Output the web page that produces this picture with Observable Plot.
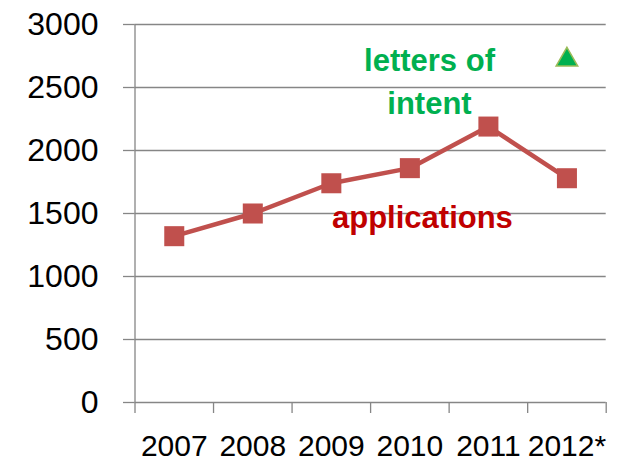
<!DOCTYPE html>
<html>
<head>
<meta charset="utf-8">
<script src="https://cdn.jsdelivr.net/npm/d3@7"></script>
<script src="https://cdn.jsdelivr.net/npm/@observablehq/plot@0.6"></script>
<style>
  html, body { margin: 0; padding: 0; background: white; }
</style>
</head>
<body>
<div id="chart"></div>
<script>
const years = ["2007", "2008", "2009", "2010", "2011", "2012*"];
const applications = [1320, 1500, 1740, 1860, 2190, 1780];
const lettersOfIntent = [null, null, null, null, null, 2720];
const yTicks = [0, 500, 1000, 1500, 2000, 2500, 3000];
const seriesLabels = ["applications", "letters of\nintent"];

const grey = "#868686";
const font = "'Liberation Sans', Arial, sans-serif";

const chart = Plot.plot({
  width: 628,
  height: 465,
  marginLeft: 134.5,
  marginRight: 22.3,
  marginTop: 24,
  marginBottom: 63,
  style: { fontFamily: font, background: "white", color: "black" },
  x: { type: "linear", domain: [0, years.length], axis: null },
  y: { domain: [0, 3000], axis: null },
  marks: [
    Plot.ruleY(yTicks, { stroke: grey, strokeWidth: 1.3 }),
    Plot.axisY({ ticks: yTicks, tickSize: 11.5, tickPadding: 25, fontSize: 32, stroke: grey, strokeWidth: 1.3, fill: "black", label: null, tickFormat: d => String(d) }),
    Plot.ruleX([0], { y1: 0, y2: 3000, stroke: grey, strokeWidth: 1.3 }),
    Plot.axisX({ ticks: d3.range(0, years.length + 1), tickSize: 11, tickFormat: () => "", stroke: grey, strokeWidth: 1.3, label: null }),
    Plot.axisX({ ticks: years.map((d, i) => i + 0.5), tickSize: 0, tickPadding: 32, fontSize: 30, fill: "black", label: null, tickFormat: d => years[Math.floor(d)] }),
    Plot.line(applications, { x: (d, i) => i + 0.5, y: d => d, stroke: "#c0504d", strokeWidth: 4.5 }),
    Plot.dot(applications, { x: (d, i) => i + 0.5, y: d => d, symbol: "square", r: 11.3, fill: "#c0504d", stroke: "none" }),
    Plot.dot(lettersOfIntent, { x: (d, i) => i + 0.5, y: d => d, filter: d => d != null, symbol: "triangle", r: 8, fill: "#00b050", stroke: "#9bbb59", strokeWidth: 1.5 }),
    Plot.text([seriesLabels[1]], { x: 3.75, y: 2567, text: d => d, fill: "#00b050", fontWeight: "bold", fontSize: 31, lineHeight: 1.39 }),
    Plot.text([seriesLabels[0]], { x: 3.66, y: 1460, text: d => d, fill: "#c00000", fontWeight: "bold", fontSize: 31 })
  ]
});
document.getElementById("chart").appendChild(chart);
</script>
</body>
</html>
